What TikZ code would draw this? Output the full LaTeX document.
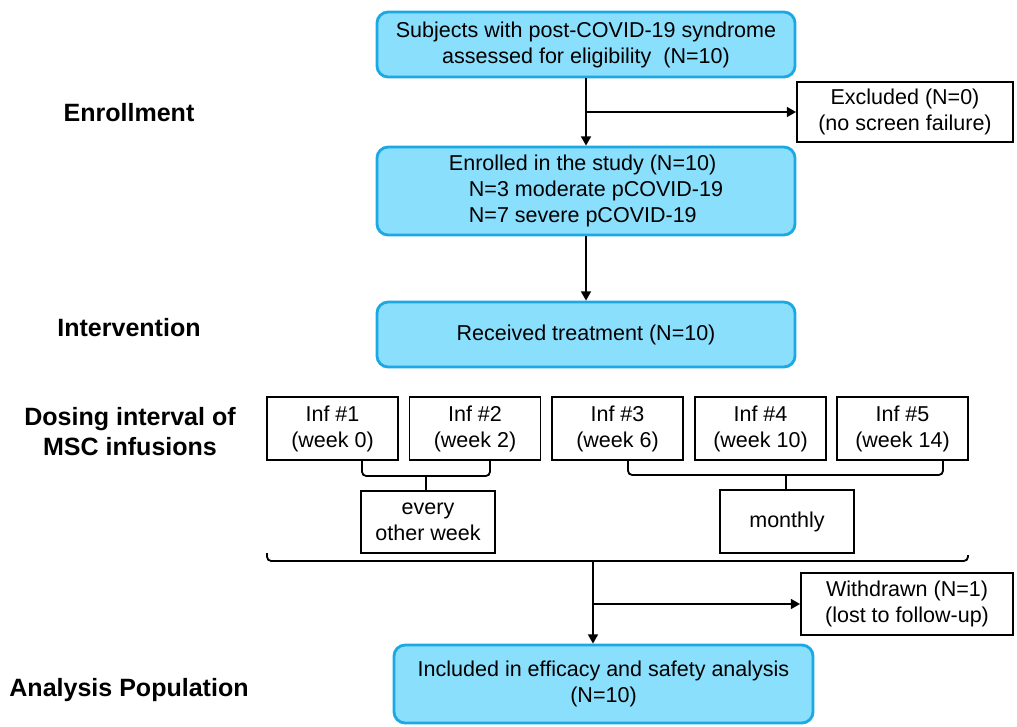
\documentclass[tikz,border=0pt]{standalone}
\usepackage{fontspec}
\setmainfont{Liberation Sans}
\usepackage{tikz}
\usepackage{xcolor}
\usetikzlibrary{arrows.meta,calc}
\definecolor{boxfill}{RGB}{138,223,252}
\definecolor{boxline}{RGB}{27,168,227}

\begin{document}
\begin{tikzpicture}[x=0.025cm, y=-0.025cm,
    font=\fontsize{15.3}{18.5}\selectfont,
    >={Triangle[length=6.5pt,width=7pt]},
    bluebox/.style={draw=boxline, fill=boxfill, line width=2pt, rounded corners=8pt,
        align=center, inner sep=0pt, minimum width=10.45cm},
    plainbox/.style={draw, line width=1.3pt, align=center, inner sep=0pt},
    infbox/.style={plainbox, minimum width=3.275cm, minimum height=1.575cm},
    stage/.style={font=\fontsize{17.8}{21.3}\selectfont\bfseries, align=center},
    link/.style={line width=1.3pt},
    brace/.style={line width=1.3pt, rounded corners=3pt}]
    \useasboundingbox (0,0) rectangle (1017,726);

    % stage labels
    \node[stage] (enroll) at (129,113) {Enrollment};
    \node[stage] (interv) at (129,328) {Intervention};
    \node[stage] (dosing) at (130,432) {Dosing interval of\\MSC infusions};
    \node[stage] (analysis) at (129,690) {Analysis Population};

    % main flow
    \node[bluebox, minimum height=1.625cm] (subj) at (586,44.5)
        {Subjects with post-COVID-19 syndrome\\assessed for eligibility~ (N=10)};
    \node[plainbox, minimum width=5.4cm, minimum height=1.5cm] (excl) at (905,112)
        {Excluded (N=0)\\(no screen failure)};
    \node[bluebox, minimum height=2.2cm, align=left] (enrol) at (586,191)
        {Enrolled in the study (N=10)\\\hspace*{0.5cm}N=3 moderate pCOVID-19\\\hspace*{0.5cm}N=7 severe pCOVID-19};
    \node[bluebox, minimum height=1.625cm] (recv) at (586,334.5) {Received treatment (N=10)};

    \draw[link,->] (subj) -- (enrol);
    \draw[link,->] (subj.south |- excl.west) -- (excl.west);
    \draw[link,->] (enrol) -- (recv);

    % infusions
    \node[infbox] (inf1) at (332.5,428.5) {Inf \#1\\(week 0)};
    \node[infbox] (inf2) at (475,428.5) {Inf \#2\\(week 2)};
    \node[infbox] (inf3) at (617.5,428.5) {Inf \#3\\(week 6)};
    \node[infbox] (inf4) at (760.5,428.5) {Inf \#4\\(week 10)};
    \node[infbox] (inf5) at (902.5,428.5) {Inf \#5\\(week 14)};

    \node[plainbox, minimum width=3.35cm, minimum height=1.55cm] (eow) at (428,522) {every\\other week};
    \node[plainbox, minimum width=3.35cm, minimum height=1.575cm] (mon) at (787,521.5) {monthly};

    \draw[brace] (inf1.south -| 362,0) |- (426,476) -| (inf2.south -| 490,0);
    \draw[brace] (426,476) -- (426,0 |- eow.north);
    \draw[brace] (inf3.south -| 628,0) |- (786,475) -| (inf5.south -| 943,0);
    \draw[brace] (786,475) -- (786,0 |- mon.north);

    % all infusions
    \coordinate (bl) at (267,553);
    \coordinate (br) at (968,555);
    \coordinate (bm) at (593,561);
    \draw[brace] (bl) |- (bm) -| (br);

    \node[plainbox, minimum width=5.3cm, minimum height=1.55cm] (wd) at (907,604)
        {Withdrawn (N=1)\\(lost to follow-up)};
    \node[bluebox, minimum width=10.475cm, minimum height=1.95cm] (incl) at (603.5,684)
        {Included in efficacy and safety analysis\\(N=10)};

    \draw[link,->] (bm) -- (bm |- incl.north);
    \draw[link,->] (bm |- wd.west) -- (wd.west);
\end{tikzpicture}
\end{document}
